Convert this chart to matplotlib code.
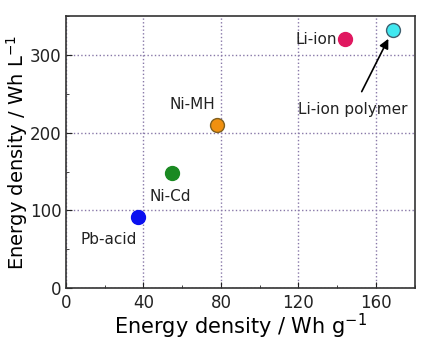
import matplotlib
matplotlib.use("Agg")
import matplotlib.pyplot as plt
from matplotlib.ticker import MultipleLocator

names = ["Pb-acid", "Ni-Cd", "Ni-MH", "Li-ion", "Li-ion polymer"]
grav = [37, 55, 78, 144, 169]
vol = [92, 148, 210, 320, 332]
colors = ["#0a10f0", "#1a8a22", "#f09010", "#e01860", "#40e8f0"]
edges = ["#0a10f0", "#1a8a22", "#806020", "#e01860", "#406070"]

fig = plt.figure(figsize=(4.25, 3.5), dpi=100)
ax = fig.add_axes([0.155, 0.177, 0.821, 0.777])

for x, y, c, e in zip(grav, vol, colors, edges):
    ax.scatter(x, y, s=100, color=c, edgecolor=e, linewidth=1, zorder=3)

txt = dict(fontsize=11, color="#222222")
ax.text(22, 62, names[0], ha="center", va="center", **txt)
ax.text(54, 118, names[1], ha="center", va="center", **txt)
ax.text(65, 236, names[2], ha="center", va="center", **txt)
ax.text(140, 320, names[3], ha="right", va="center", **txt)
ax.annotate(names[4], xy=(167, 324), xytext=(148, 230),
            ha="center", va="center", fontsize=11, color="#222222",
            arrowprops=dict(arrowstyle="-|>", color="black", lw=1.2,
                            shrinkA=6, shrinkB=2, mutation_scale=14))

ax.set_xlim(0, 180)
ax.set_ylim(0, 350)
ax.xaxis.set_major_locator(MultipleLocator(40))
ax.xaxis.set_minor_locator(MultipleLocator(20))
ax.yaxis.set_major_locator(MultipleLocator(100))
ax.yaxis.set_minor_locator(MultipleLocator(50))
ax.tick_params(which="both", direction="in", labelsize=12, colors="#222222")
ax.tick_params(which="major", length=4)
ax.tick_params(axis="x", which="major", pad=4)
ax.tick_params(axis="y", which="major", pad=3)
ax.tick_params(which="minor", length=2.5)
ax.grid(True, which="major", linestyle=":", color="#8878a8", linewidth=1)

for s in ax.spines.values():
    s.set_color("#333333")
    s.set_linewidth(1.2)

ax.set_xlabel("Energy density / Wh g$^{\\mathregular{-1}}$", fontsize=15, labelpad=0)
ax.set_ylabel("Energy density / Wh L$^{\\mathregular{-1}}$", fontsize=14, labelpad=0)

fig.savefig("out.png", dpi=100)
